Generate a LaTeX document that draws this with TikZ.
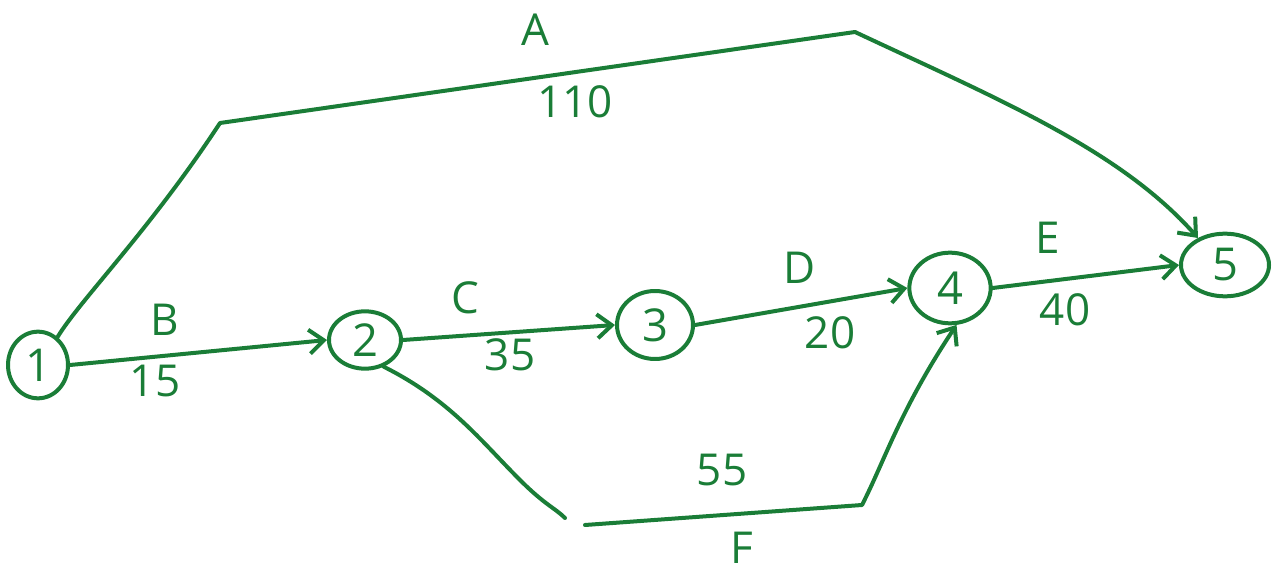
\documentclass[tikz,border=0pt]{standalone}
\usepackage{fontspec}
\setmainfont{Open Sans}
\usetikzlibrary{arrows.meta,shapes.geometric}
\definecolor{pen}{RGB}{26,125,55}
\begin{document}
\begin{tikzpicture}[x=0.75pt,y=-0.75pt,
  line width=3pt, line cap=round, line join=round,
  event/.style={draw=pen, ellipse, inner sep=0pt, text=pen, font=\fontsize{34}{34}\selectfont},
  arr/.style={draw=pen, -{Straight Barb[length=11pt,width=18pt,line width=3pt]}},
  lbl/.style={text=pen, font=\fontsize{33}{33}\selectfont, inner sep=0pt}]
\useasboundingbox (0,0) rectangle (1281,573);
% events
\node[event, minimum width=45pt, minimum height=50pt] (n1) at (38,365) {1};
\node[event, minimum width=54pt, minimum height=43pt] (n2) at (365,340) {2};
\node[event, minimum width=57pt, minimum height=51pt] (n3) at (655,325) {3};
\node[event, minimum width=61pt, minimum height=53pt] (n4) at (950,288) {4};
\node[event, minimum width=66pt, minimum height=47pt] (n5) at (1225,265) {5};
% bend points
\coordinate (a1) at (220,123);
\coordinate (a2) at (855,32);
\coordinate (f1) at (565,518);
\coordinate (f2) at (585,525);
\coordinate (f3) at (862,505);
% A
\draw[arr] (n1.55) .. controls (80,300) and (150,230) .. (a1) -- (a2)
  .. controls (1000,100) and (1120,150) .. (n5.135);
% B
\draw[arr] (n1.east) -- (n2.west);
% C
\draw[arr] (n2.east) -- (n3.west);
% D
\draw[arr] (n3.east) -- (n4.west);
% E
\draw[arr] (n4.east) -- (n5.west);
% F
\draw[draw=pen] (n2.-55) .. controls (450,400) and (480,440) .. (520,480) .. controls (545,505) and (555,508) .. (f1);
\draw[arr] (f2) -- (f3) .. controls (885,460) and (900,410) .. (n4.-80);
% labels
\node[lbl] (lA) at (535,30) {A};
\node[lbl] (lA2) at (575,102) {110};
\node[lbl] (lB) at (165,320) {B};
\node[lbl] (lB2) at (155,381) {15};
\node[lbl] (lC) at (465,298) {C};
\node[lbl] (lC2) at (510,355) {35};
\node[lbl] (lD) at (800,268) {D};
\node[lbl] (lD2) at (830,333) {20};
\node[lbl] (lE) at (1048,238) {E};
\node[lbl] (lE2) at (1065,310) {40};
\node[lbl] (lF) at (742,548) {F};
\node[lbl] (lF2) at (722,470) {55};
\end{tikzpicture}
\end{document}
